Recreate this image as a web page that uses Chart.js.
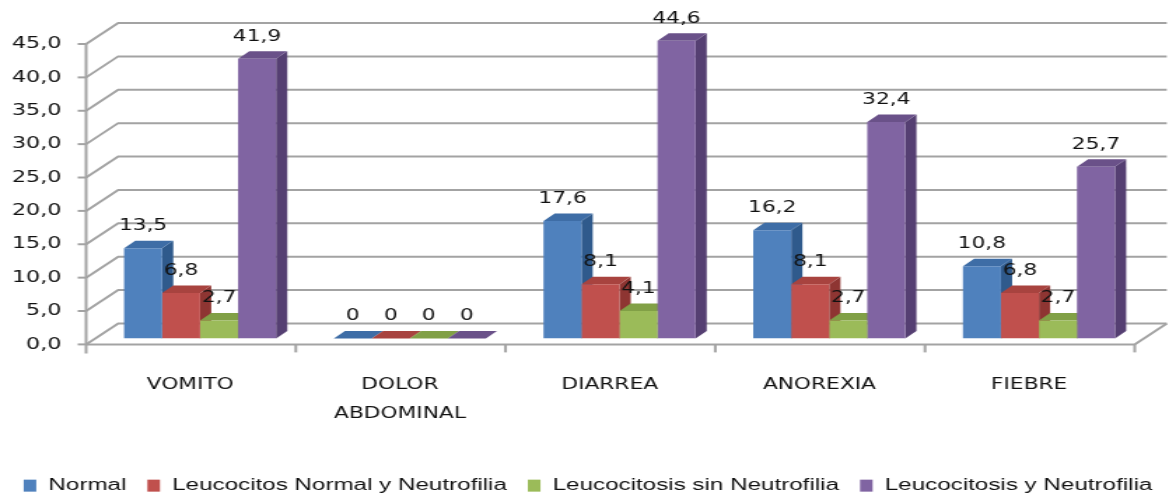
<!DOCTYPE html>
<html>
<head>
<meta charset="utf-8">
<script src="https://cdn.jsdelivr.net/npm/chart.js@4"></script>
<style>
  html, body { margin: 0; padding: 0; background: #ffffff; }
  /* the drawing is made on a narrower canvas and widened on screen */
  #chart { display: block; width: 1176px !important; height: 497px !important; }
</style>
</head>
<body>
<canvas id="chart" width="840" height="497" style="width:1176px;height:497px"></canvas>
<script>
// ---- data ----
const categories = ['VOMITO', ['DOLOR', 'ABDOMINAL'], 'DIARREA', 'ANOREXIA', 'FIEBRE'];
const seriesNames = ['Normal', 'Leucocitos Normal y Neutrofilia', 'Leucocitosis sin Neutrofilia', 'Leucocitosis y Neutrofilia'];
const normal = [13.5, 0, 17.6, 16.2, 10.8];
const leucocitosNormalNeutrofilia = [6.8, 0, 8.1, 8.1, 6.8];
const leucocitosisSinNeutrofilia = [2.7, 0, 4.1, 2.7, 2.7];
const leucocitosisNeutrofilia = [41.9, 0, 44.6, 32.4, 25.7];
const yMin = 0;
const yMax = 45;
const yStep = 5;

// ---- styling ----
const frontColors = ['#4F81BD', '#C0504D', '#9BBB59', '#8064A2'];
const topColors = ['#3E6DA6', '#A8433F', '#81A046', '#6A5189'];
const sideColors = ['#2F5A8C', '#8E3532', '#6A8836', '#553F72'];
const lineColor = '#a3a3a3';
const textColor = '#111111';

// 3D offsets relative to the plane the bar fronts stand in
const FRONT = { dx: -6.5, dy: 6 };     // front edge of the floor / axis
const BACK = { dx: 16.4, dy: -15 };    // back wall
const BAR_DEPTH = { dx: 8, dy: 7.5 };  // depth of each column

const fmt = v => (v === 0 ? '0' : v.toFixed(1).replace('.', ','));

const walls3d = {
  id: 'walls3d',
  beforeDatasetsDraw(chart) {
    const { ctx, chartArea: a, scales: { x, y } } = chart;
    const y0 = y.getPixelForValue(yMin);
    ctx.save();
    ctx.lineCap = 'butt';

    // back wall grid lines with the side-wall diagonals
    ctx.strokeStyle = lineColor;
    ctx.lineWidth = 2;
    for (let v = yMin; v <= yMax; v += yStep) {
      const py = y.getPixelForValue(v);
      ctx.beginPath();
      ctx.moveTo(a.left + FRONT.dx, py + FRONT.dy);
      ctx.lineTo(a.left + BACK.dx, py + BACK.dy);
      ctx.lineTo(a.right + BACK.dx, py + BACK.dy);
      ctx.stroke();
      // tick mark on the value axis
      ctx.beginPath();
      ctx.moveTo(a.left + FRONT.dx - 6, py + FRONT.dy);
      ctx.lineTo(a.left + FRONT.dx, py + FRONT.dy);
      ctx.stroke();
    }

    // value axis line
    ctx.beginPath();
    ctx.moveTo(a.left + FRONT.dx, y.getPixelForValue(yMax) + FRONT.dy);
    ctx.lineTo(a.left + FRONT.dx, y0 + FRONT.dy + 9);
    ctx.stroke();

    // floor: front edge and right edge
    ctx.beginPath();
    ctx.moveTo(a.left + FRONT.dx, y0 + FRONT.dy);
    ctx.lineTo(a.right + FRONT.dx, y0 + FRONT.dy);
    ctx.lineTo(a.right + BACK.dx, y0 + BACK.dy);
    ctx.stroke();

    // category separators below the floor
    const n = categories.length;
    for (let k = 1; k <= n; k++) {
      const px = a.left + (a.width * k) / n + FRONT.dx;
      ctx.beginPath();
      ctx.moveTo(px, y0 + FRONT.dy);
      ctx.lineTo(px, y0 + FRONT.dy + 8);
      ctx.stroke();
    }

    // column sides and tops (fronts are drawn by the bar controller)
    for (let j = 0; j < n; j++) {
      chart.data.datasets.forEach((ds, i) => {
        const el = chart.getDatasetMeta(i).data[j];
        const { x: cx, y: top, base, width } = el.getProps(['x', 'y', 'base', 'width'], true);
        const l = cx - width / 2, r = cx + width / 2;
        ctx.fillStyle = sideColors[i];
        ctx.beginPath();
        ctx.moveTo(r, top);
        ctx.lineTo(r + BAR_DEPTH.dx, top - BAR_DEPTH.dy);
        ctx.lineTo(r + BAR_DEPTH.dx, base - BAR_DEPTH.dy);
        ctx.lineTo(r, base);
        ctx.closePath();
        ctx.fill();
        ctx.fillStyle = topColors[i];
        ctx.beginPath();
        ctx.moveTo(l, top);
        ctx.lineTo(l + BAR_DEPTH.dx, top - BAR_DEPTH.dy);
        ctx.lineTo(r + BAR_DEPTH.dx, top - BAR_DEPTH.dy);
        ctx.lineTo(r, top);
        ctx.closePath();
        ctx.fill();
      });
    }
    ctx.restore();
  },
  afterDatasetsDraw(chart) {
    const { ctx } = chart;
    ctx.save();
    ctx.font = '15.5px "DejaVu Sans"';
    ctx.fillStyle = textColor;
    ctx.textAlign = 'center';
    ctx.textBaseline = 'middle';
    chart.data.datasets.forEach((ds, i) => {
      chart.getDatasetMeta(i).data.forEach((el, j) => {
        const { x: cx, y: top } = el.getProps(['x', 'y'], true);
        ctx.fillText(fmt(ds.data[j]), cx, top - 22);
      });
    });
    ctx.restore();
  }
};

Chart.defaults.font.family = '"DejaVu Sans"';
Chart.defaults.color = textColor;

const seriesValues = [normal, leucocitosNormalNeutrofilia, leucocitosisSinNeutrofilia, leucocitosisNeutrofilia];

new Chart(document.getElementById('chart'), {
  type: 'bar',
  data: {
    labels: categories,
    datasets: seriesValues.map((values, i) => ({
      label: seriesNames[i],
      data: values,
      backgroundColor: frontColors[i],
      borderWidth: 0,
      barPercentage: 1,
      categoryPercentage: 0.725
    }))
  },
  options: {
    responsive: false,
    devicePixelRatio: 1,
    animation: false,
    layout: { padding: { left: 0, right: 0, top: 38, bottom: 0 } },
    plugins: {
      tooltip: { enabled: false },
      legend: {
        position: 'bottom',
        maxHeight: 35,
        labels: {
          boxWidth: 9,
          boxHeight: 12,
          padding: 15,
          color: textColor,
          font: { family: '"Liberation Sans"', size: 17.3 }
        }
      }
    },
    scales: {
      x: {
        grid: { display: false, drawTicks: false },
        border: { display: false },
        ticks: {
          autoSkip: false,
          maxRotation: 0,
          labelOffset: -7,
          padding: 32.6,
          color: textColor,
          font: { size: 15.5, lineHeight: 1.85 }
        },
        afterFit(scale) { scale.height = 123.6; }
      },
      y: {
        min: yMin,
        max: yMax,
        grid: { display: false, drawTicks: false },
        border: { display: false },
        ticks: {
          stepSize: yStep,
          labelOffset: 6,
          padding: 24,
          color: textColor,
          font: { size: 16 },
          callback: v => v.toFixed(1).replace('.', ',')
        },
        afterFit(scale) { scale.width = 68; }
      },
      yRight: {
        position: 'right',
        grid: { display: false, drawTicks: false },
        border: { display: false },
        ticks: { display: false },
        afterFit(scale) { scale.width = 23; }
      }
    }
  },
  plugins: [walls3d]
});
</script>
</body>
</html>
